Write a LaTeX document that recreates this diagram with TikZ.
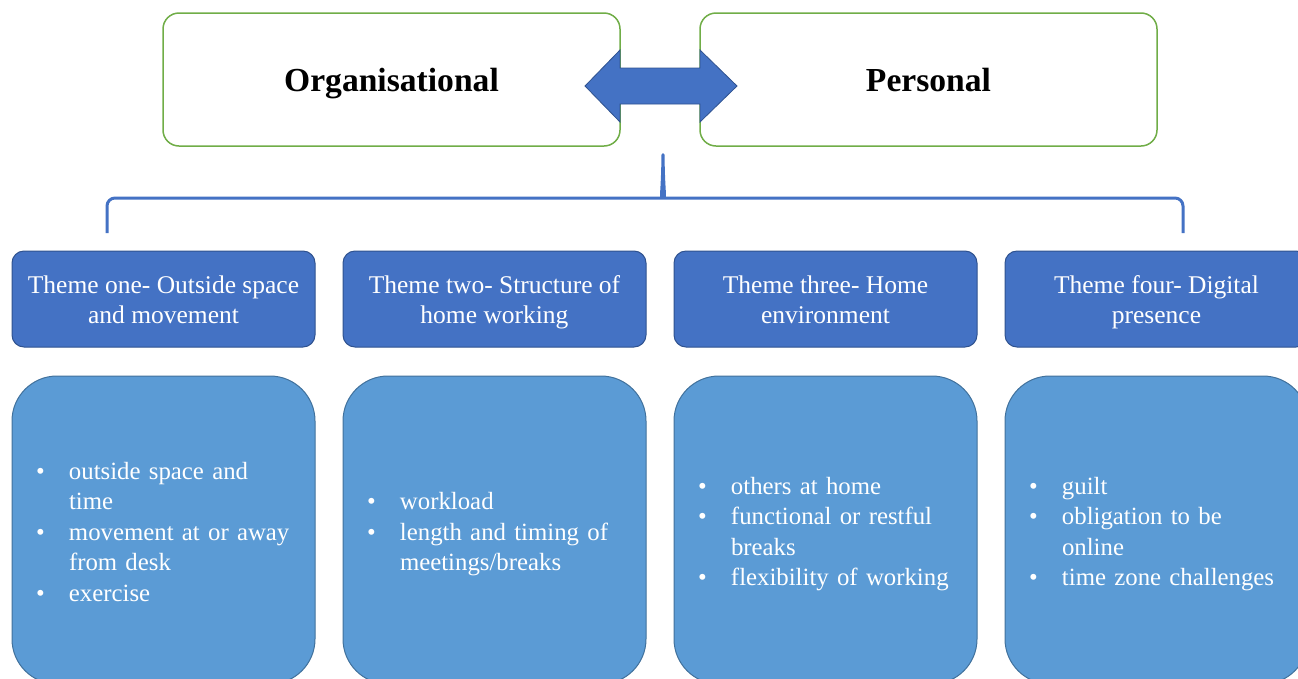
\documentclass[tikz,border=0pt]{standalone}
\usepackage{fontspec}
\setmainfont{Liberation Serif}
\definecolor{darkblue}{HTML}{4472C4}
\definecolor{darkedge}{HTML}{2F528F}
\definecolor{lightblue}{HTML}{5B9BD5}
\definecolor{lightedge}{HTML}{41719C}
\definecolor{greenedge}{HTML}{70AD47}
\newcommand{\blist}[1]{\noindent\raisebox{-4pt}[\height][\depth]{\begin{tabular}{@{}p{33pt}@{}l@{}}#1\end{tabular}}}
\newcommand{\tstr}{\rule{0pt}{25pt}}
\newcommand{\bstr}{\rule[-6.5pt]{0pt}{6.5pt}}
\begin{document}
\begin{tikzpicture}[x=1pt,y=-1pt,
 topbox/.style={draw=greenedge, fill=white, line width=1.5pt, rounded corners=16pt, minimum width=457pt, minimum height=133pt, inner sep=0pt, text height=28pt, text depth=4pt, font=\fontsize{33.6}{40}\selectfont\bfseries},
 themebox/.style={draw=darkedge, fill=darkblue, line width=1pt, rounded corners=12pt, minimum width=303pt, minimum height=96pt, text=white, align=center, inner sep=0pt, font=\fontsize{25.5}{30.5}\selectfont},
 itembox/.style={draw=lightedge, fill=lightblue, line width=1pt, rounded corners=45pt, minimum width=303pt, minimum height=308pt, text=white, inner xsep=24pt, inner ysep=0pt, text width=255pt, align=left, font=\fontsize{24.8}{30.5}\selectfont},
 bracestyle/.style={draw=darkblue, line width=3pt, line join=round},
 dblarrow/.style={fill=darkblue, draw=darkedge, line width=0.8pt, line join=miter},
]
\useasboundingbox (0,0) rectangle (1298,678);
\clip (0,0) rectangle (1298,678);

% top boxes
\node[topbox] (org) at (391.5,79.5) {Organisational};
\node[topbox] (pers) at (928.5,79.5) {Personal};

% double arrow
\draw[dblarrow] (585,86) -- (620,50) -- (620,68) -- (700,68) -- (700,50) -- (737,86)
  -- (700,122) -- (700,104) -- (620,104) -- (620,122) -- cycle;

% brace
\coordinate (bl) at (107,233);
\coordinate (br) at (1183,233);
\coordinate (btip) at (663,150);
\draw[bracestyle, rounded corners=8pt] (bl) -- (107,198) -- (655,198)
  .. controls (660,198) and (662.5,194) .. (btip)
  .. controls (663.5,194) and (666,198) .. (671,198) -- (1183,198) -- (br);

% theme boxes
\node[themebox] (t1) at (163.5,299) {\tstr Theme one- Outside space\\and movement\bstr};
\node[themebox] (t2) at (494.5,299) {\tstr Theme two- Structure of\\home working\bstr};
\node[themebox] (t3) at (825.5,299) {\tstr Theme three- Home\\environment\bstr};
\node[themebox] (t4) at (1156.5,299) {\tstr Theme four- Digital\\presence\bstr};

% item boxes
\node[itembox] (c1) at (163.5,530) {\blist{\textbullet & outside space and\\ & time\\ \textbullet & movement at or away\\ & from desk\\ \textbullet & exercise}};
\node[itembox] (c2) at (494.5,530) {\blist{\textbullet & workload\\ \textbullet & length and timing of\\ & meetings/breaks}};
\node[itembox] (c3) at (825.5,530) {\blist{\textbullet & others at home\\ \textbullet & functional or restful\\ & breaks\\ \textbullet & flexibility of working}};
\node[itembox] (c4) at (1156.5,530) {\blist{\textbullet & guilt\\ \textbullet & obligation to be\\ & online\\ \textbullet & time zone challenges}};
\end{tikzpicture}
\end{document}
